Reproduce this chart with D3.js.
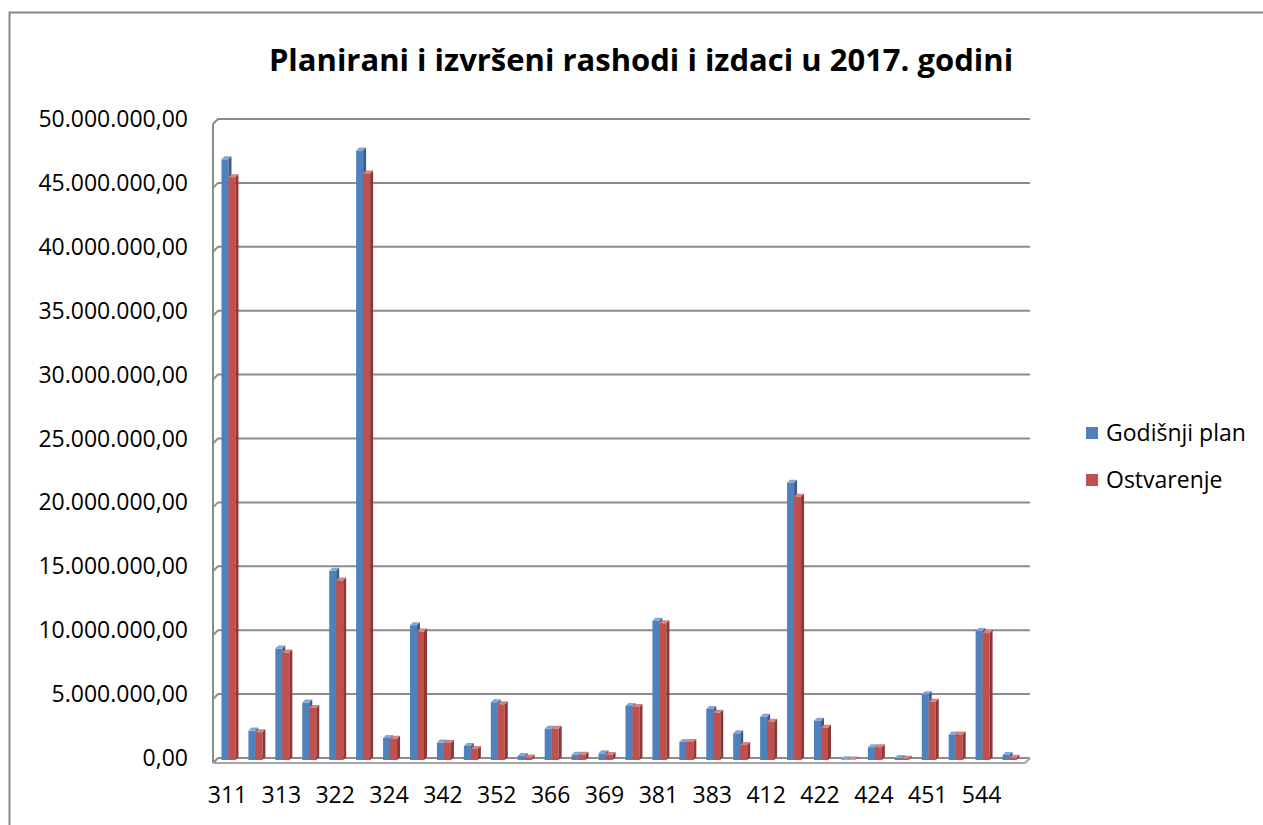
<!DOCTYPE html>
<html>
<head>
<meta charset="utf-8">
<style>
  body { margin: 0; background: #fff; }
  svg { display: block; font-family: "Open Sans", sans-serif; }
</style>
<script src="https://d3js.org/d3.v7.min.js"></script>
</head>
<body>
<div id="chart"></div>
<script>
// account codes, only every second one is labelled on the axis
var categories = ["311","312","313","321","322","323","324","329","342","343",
                  "352","363","366","368","369","372","381","382","383","386",
                  "412","421","422","423","424","426","451","454","544","545"];
// values in millions
var plan = [47.0, 2.3, 8.72, 4.49, 14.8, 47.7, 1.72, 10.55, 1.36, 1.1,
            4.52, 0.31, 2.45, 0.42, 0.52, 4.23, 10.9, 1.41, 4.0, 2.09,
            3.39, 21.7, 3.08, 0.05, 1.0, 0.15, 5.15, 2.0, 10.1, 0.39];
var realised = [45.6, 2.17, 8.41, 4.07, 14.05, 45.9, 1.67, 10.05, 1.33, 0.86,
                4.36, 0.2, 2.45, 0.42, 0.39, 4.15, 10.7, 1.41, 3.7, 1.17,
                3.0, 20.6, 2.53, 0.03, 1.0, 0.1, 4.55, 2.0, 9.93, 0.18];
var seriesNames = ["Godišnji plan", "Ostvarenje"];
var yTicks = d3.range(0, 50000001, 5000000);

var W = 1263, H = 825;
var svg = d3.select("#chart").append("svg").attr("width", W).attr("height", H);
svg.append("rect").attr("width", W).attr("height", H).attr("fill", "#fff");

// outer frame (only left and top visible)
svg.append("path").attr("d", "M9.5," + H + "V12.5H" + W)
  .attr("fill", "none").attr("stroke", "#868686").attr("stroke-width", 2);

svg.append("text").attr("x", 641).attr("y", 71).attr("text-anchor", "middle")
  .style("font-size", "31px").style("font-weight", "bold").attr("fill", "#000")
  .text("Planirani i izvršeni rashodi i izdaci u 2017. godini");

var loc = d3.formatLocale({decimal: ",", thousands: ".", grouping: [3], currency: ["", ""]});
var fmt = loc.format(",.2f");

var wallL = 218, wallR = 1030, depth = 5;
var y = d3.scaleLinear().domain([0, 50000000]).range([758, 119]);
var x = d3.scaleBand().domain(categories).range([215, 1023]);

// gridlines on back wall + left side wall
var grid = svg.append("g");
yTicks.forEach(function (t) {
  grid.append("path")
    .attr("d", "M" + (wallL - depth) + "," + (y(t) + depth) + "L" + wallL + "," + y(t) + "H" + wallR)
    .attr("fill", "none").attr("stroke", "#8c8c8c").attr("stroke-width", 2);
});
grid.append("line").attr("x1", wallL - depth).attr("x2", wallL - depth)
  .attr("y1", y(50000000) + depth).attr("y2", y(0) + depth)
  .attr("stroke", "#8c8c8c").attr("stroke-width", 2);

// floor
grid.append("path")
  .attr("d", "M" + (wallL - depth) + "," + (y(0) + depth) + "H" + (wallR - depth) + "L" + wallR + "," + y(0))
  .attr("fill", "none").attr("stroke", "#a6a6a6").attr("stroke-width", 2);

// y labels
svg.append("g").selectAll("text").data(yTicks).enter().append("text")
  .attr("x", 188).attr("y", function (d) { return y(d) + 8; })
  .attr("text-anchor", "end").style("font-size", "23px").attr("fill", "#000")
  .text(function (d) { return fmt(d); });

// x labels
svg.append("g").selectAll("text").data(categories.filter(function (d, i) { return i % 2 === 0; }))
  .enter().append("text")
  .attr("x", function (d) { return x(d) + x.bandwidth() / 2 - 1; })
  .attr("y", 803).attr("text-anchor", "middle").style("font-size", "23px").attr("fill", "#000")
  .text(function (d) { return d; });

// 3D bars
var barW = 7, d3x = 3, base = y(0) + 2;
var colors = [
  {front: "#4f81bd", top: "#86a6d2", side: "#385d8a"},
  {front: "#c0504d", top: "#d58482", side: "#8c3836"}
];
var bars = svg.append("g");
[plan, realised].forEach(function (vals, s) {
  var c = colors[s];
  var g = bars.append("g");
  categories.forEach(function (cat, i) {
    var cx = x(cat) + x.bandwidth() / 2;
    var x0 = cx - barW + s * barW;
    var top = y(vals[i] * 1e6) + 2;
    g.append("rect").attr("x", x0).attr("y", top).attr("width", barW).attr("height", Math.max(0, base - top))
      .attr("fill", c.front);
    g.append("path").attr("d", "M" + x0 + "," + top + "l" + d3x + "," + (-d3x) + "h" + barW + "l" + (-d3x) + "," + d3x + "z")
      .attr("fill", c.top);
    g.append("path").attr("d", "M" + (x0 + barW) + "," + top + "l" + d3x + "," + (-d3x) + "V" + (base - d3x) + "l" + (-d3x) + "," + d3x + "z")
      .attr("fill", c.side);
  });
});

// legend
var leg = svg.append("g");
seriesNames.forEach(function (name, i) {
  leg.append("rect").attr("x", 1086).attr("y", 427 + i * 47).attr("width", 12).attr("height", 12)
    .attr("fill", colors[i].front);
  leg.append("text").attr("x", 1106).attr("y", 441 + i * 47).style("font-size", "23px").attr("fill", "#000")
    .text(name);
});
</script>
</body>
</html>
